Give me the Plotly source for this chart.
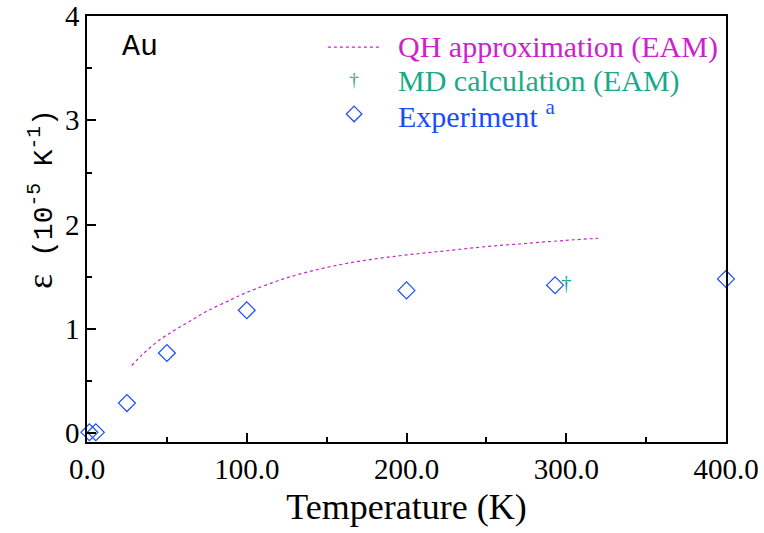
import plotly.graph_objects as go

# QH approximation (EAM)
qh_T = [28, 35, 45, 55, 65, 75, 90, 100, 125, 150, 175, 200, 225, 250, 275, 300, 320]
qh_eps = [0.65, 0.76, 0.89, 0.99, 1.08, 1.17, 1.28, 1.35, 1.49, 1.59, 1.66, 1.71, 1.75, 1.79, 1.82, 1.85, 1.87]

# MD calculation (EAM)
md_T = [300]
md_eps = [1.42]

# Experiment
exp_T = [1.5, 5.5, 25, 50, 100, 200, 293, 400]
exp_eps = [0.01, 0.01, 0.29, 0.77, 1.18, 1.37, 1.42, 1.48]

x_ticks = [0, 100, 200, 300, 400]
x_ticklabels = ["0.0", "100.0", "200.0", "300.0", "400.0"]
y_ticks = [0, 1, 2, 3, 4]
y_ticklabels = ["0", "1", "2", "3", "4"]

MAG = "#CC22CC"
GRN = "#1AAA8A"
BLU = "#1A4CFF"
SERIF = "Liberation Serif"
MONO = "Liberation Mono"

fig = go.Figure()
fig.add_trace(go.Scatter(x=qh_T, y=qh_eps, mode="lines", line=dict(color=MAG, width=1.2, dash="3px,3px"),
                         showlegend=False, line_shape="spline"))
fig.add_trace(go.Scatter(x=exp_T, y=exp_eps, mode="markers",
                         marker=dict(symbol="diamond-open", size=13, color=BLU, line=dict(width=1.2, color=BLU)),
                         showlegend=False, cliponaxis=False))
fig.add_trace(go.Scatter(x=md_T, y=md_eps, mode="text", text=["†"],
                         textfont=dict(color=GRN, size=21, family=SERIF), showlegend=False))

# legend samples on an overlay paper-like axis
fig.add_trace(go.Scatter(x=[0.377, 0.46], y=[0.927, 0.927], mode="lines", xaxis="x2", yaxis="y2",
                         line=dict(color=MAG, width=1.2, dash="3px,3px"), showlegend=False))
fig.add_trace(go.Scatter(x=[0.418], y=[0.848], mode="text", text=["†"], xaxis="x2", yaxis="y2",
                         textfont=dict(color=GRN, size=19, family=SERIF), showlegend=False))
fig.add_trace(go.Scatter(x=[0.418], y=[0.770], mode="markers", xaxis="x2", yaxis="y2",
                         marker=dict(symbol="diamond-open", size=12, color=BLU, line=dict(width=1.2, color=BLU)),
                         showlegend=False))

ann = [
    dict(x=0.4836, y=0.927, xref="x2", yref="y2", text="QH approximation (EAM)", showarrow=False,
         xanchor="left", yanchor="middle", font=dict(family=SERIF, size=30, color=MAG)),
    dict(x=0.4836, y=0.848, xref="x2", yref="y2", text="MD calculation (EAM)", showarrow=False,
         xanchor="left", yanchor="middle", font=dict(family=SERIF, size=30, color=GRN)),
    dict(x=0.4836, y=0.770, xref="x2", yref="y2", text="Experiment <sup>a</sup>", showarrow=False,
         xanchor="left", yanchor="middle", font=dict(family=SERIF, size=30, color=BLU)),
    dict(x=0.0516, y=0.927, xref="x2", yref="y2", text="Au", showarrow=False,
         xanchor="left", yanchor="middle", font=dict(family=MONO, size=30, color="black")),
    dict(x=-0.074, y=0.57, xref="paper", yref="paper", textangle=-90, showarrow=False,
         xanchor="center", yanchor="middle",
         text="<span style='font-family:Liberation Serif;font-size:36px'>ε</span> (10<sup>-5</sup> K<sup>-1</sup>)",
         font=dict(family=MONO, size=28, color="black")),
]

fig.update_layout(
    width=764, height=533,
    margin=dict(l=87, r=38, t=16, b=91),
    plot_bgcolor="white", paper_bgcolor="white",
    annotations=ann,
    xaxis=dict(range=[0, 400], tickvals=x_ticks, ticktext=x_ticklabels, ticks="inside", ticklen=9,
               tickwidth=1.5, tickcolor="black", showgrid=False, zeroline=False, showline=True,
               linecolor="black", linewidth=1.5, mirror=True, automargin=False,
               minor=dict(dtick=50, ticks="inside", ticklen=5, tickcolor="black", tickwidth=1.5),
               tickfont=dict(family=SERIF, size=29, color="black"),
               title=dict(text="Temperature (K)", font=dict(family=SERIF, size=36, color="black"), standoff=10)),
    yaxis=dict(range=[-0.083, 4], tickvals=y_ticks, ticktext=y_ticklabels, ticks="inside", ticklen=9,
               tickwidth=1.5, tickcolor="black", showgrid=False, zeroline=False, showline=True,
               linecolor="black", linewidth=1.5, mirror=True, automargin=False,
               minor=dict(dtick=0.5, ticks="inside", ticklen=5, tickcolor="black", tickwidth=1.5),
               tickfont=dict(family=SERIF, size=29, color="black")),
    xaxis2=dict(range=[0, 1], overlaying="x", visible=False, fixedrange=True),
    yaxis2=dict(range=[0, 1], overlaying="y", visible=False, fixedrange=True),
)

fig.write_html("out.html")
